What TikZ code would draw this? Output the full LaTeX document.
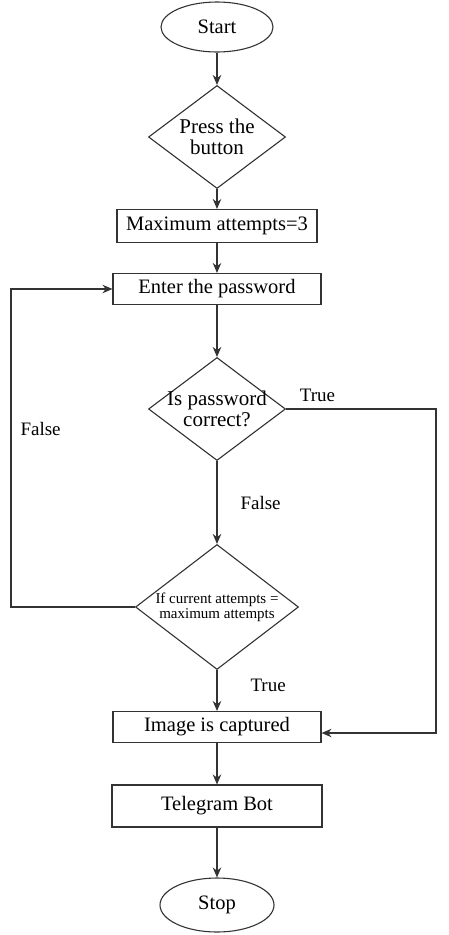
\documentclass[tikz,border=0pt]{standalone}
\usepackage{fontspec}
\setmainfont{Liberation Serif}
\usetikzlibrary{positioning, shapes.geometric}
\usetikzlibrary{arrows, arrows.meta}
\tikzset{ line/.style={draw=black!80, line width=1.1pt},
          flow/.style={line, -{Stealth[length=10pt,width=8.5pt]}},
          term/.style={line, ellipse, inner sep=0pt,
            font=\fontsize{20.5}{22}\selectfont},
          stepbox/.style={line, rectangle, inner sep=0pt,
            font=\fontsize{20.5}{22}\selectfont},
          decide/.style={line, diamond, inner sep=-30pt, align=center,
            font=\fontsize{21}{21}\selectfont},
          lbl/.style={font=\fontsize{19}{20}\selectfont, inner sep=1pt}}

\begin{document}
\begin{tikzpicture}[x=1pt, y=-1pt]
\useasboundingbox (0,0) rectangle (448,935);

\node[term, minimum width=112pt, minimum height=50pt] (start) at (217,27) {Start};
\node[decide, minimum width=137pt, minimum height=103pt] (press) at (217,137) {Press the\\button};
\node[stepbox, minimum width=200pt, minimum height=33pt] (maxatt) at (217,226) {Maximum attempts=3};
\node[stepbox, minimum width=208pt, minimum height=31pt] (enter) at (217,289) {Enter the password};
\node[decide, minimum width=137pt, minimum height=103pt] (check) at (217,409) {Is password\\correct?};
\node[decide, minimum width=163pt, minimum height=125pt,
  font=\fontsize{15}{15}\selectfont] (limit) at (217,607) {If current attempts =\\maximum attempts};
\node[stepbox, minimum width=208pt, minimum height=31pt] (image) at (217,727) {Image is captured};
\node[stepbox, minimum width=210pt, minimum height=42pt] (bot) at (217,806) {Telegram Bot};
\node[term, minimum width=114pt, minimum height=54pt] (stop) at (217,905) {Stop};

\coordinate (lf) at (11,0);
\coordinate (rt) at (436,0);

% main line
\draw[flow] (start) -- (press);
\draw[flow] (press) -- (maxatt);
\draw[flow] (maxatt) -- (enter);
\draw[flow] (enter) -- (check);
\draw[flow] (check) -- node[lbl, midway, right=22pt]{False} (limit);
\draw[flow] (limit) -- node[lbl, pos=0.38, right=32pt]{True} (image);
\draw[flow] (image) -- (bot);
\draw[flow] (bot) -- (stop);

% branches
\draw[flow] (check.east) -- node[lbl, pos=0.21, above=6pt]{True} (check.east -| rt)
  |- ([yshift=-6pt]image.east);
\draw[flow] (limit.west) -- (limit.west -| lf)
  |- node[lbl, pos=0.28, right=8pt]{False} (enter.west);

\end{tikzpicture}
\end{document}
